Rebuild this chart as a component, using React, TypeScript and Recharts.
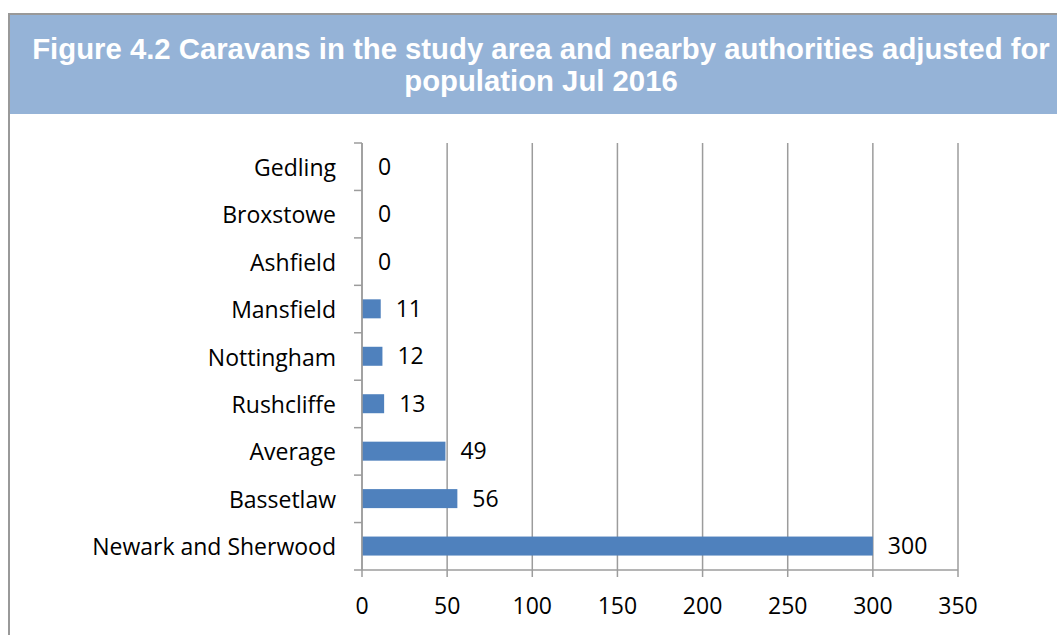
import React from "react";
import {
  BarChart,
  Bar,
  XAxis,
  YAxis,
  CartesianGrid,
  LabelList,
} from "recharts";

const areas = [
  "Gedling",
  "Broxstowe",
  "Ashfield",
  "Mansfield",
  "Nottingham",
  "Rushcliffe",
  "Average",
  "Bassetlaw",
  "Newark and Sherwood",
];
const caravans = [0, 0, 0, 11, 12, 13, 49, 56, 300];
const xTicks = [0, 50, 100, 150, 200, 250, 300, 350];

const titleLines = [
  "Figure 4.2 Caravans in the study area and nearby authorities adjusted for",
  "population Jul 2016",
];

const data = areas.map((name, i) => ({ name, value: caravans[i] }));

const FONT = "'Open Sans', sans-serif";
const FONT_SIZE = 23;
const GRID = "#9c9c9c";
const BAR = "#4f81bd";

const CHART_W = 1057;
const CHART_H = 635;
const PLOT_TOP = 143;
const PLOT_BOTTOM = 570;
const BAND = (PLOT_BOTTOM - PLOT_TOP) / areas.length;

// excel style: category tick marks sit between the bands, not at their centres
function CategoryTick(props: any) {
  const { x, y, payload, index } = props;
  const axisX = x + 26;
  return (
    <g>
      <text
        x={x}
        y={y}
        textAnchor="end"
        dominantBaseline="central"
        fontFamily={FONT}
        fontSize={FONT_SIZE}
        fill="#000"
      >
        {payload.value}
      </text>
      <line x1={axisX - 8} x2={axisX} y1={y - BAND / 2} y2={y - BAND / 2} stroke={GRID} strokeWidth={1.5} />
      {index === areas.length - 1 && (
        <line x1={axisX - 8} x2={axisX} y1={y + BAND / 2} y2={y + BAND / 2} stroke={GRID} strokeWidth={1.5} />
      )}
    </g>
  );
}

// zero bars get a min size so their label still shows, but nothing is drawn
function BarShape(props: any) {
  const { x, y, width, height, payload } = props;
  if (!payload || payload.value <= 0) return <g />;
  return <rect x={x} y={y} width={width} height={height} fill={BAR} />;
}

export default function App() {
  return (
    <div
      style={{
        position: "absolute",
        left: 0,
        top: 0,
        width: CHART_W,
        height: CHART_H,
        background: "#fff",
        overflow: "hidden",
      }}
    >
      {/* frame + title banner */}
      <div
        style={{
          position: "absolute",
          left: 8,
          top: 13,
          width: CHART_W,
          height: CHART_H,
          borderLeft: "2px solid #999",
          borderTop: "2px solid #999",
        }}
      />
      <div
        style={{
          position: "absolute",
          left: 10,
          top: 15,
          width: CHART_W - 10,
          height: 99,
          background: "#95b3d7",
          overflow: "hidden",
        }}
      >
        <div
          style={{
            position: "absolute",
            left: 0,
            top: 18,
            width: 1062,
            textAlign: "center",
            color: "#fff",
            fontFamily: "'Liberation Sans', Arial, sans-serif",
            fontWeight: "bold",
            fontSize: 29.3,
            lineHeight: "32px",
            whiteSpace: "nowrap",
          }}
        >
          {titleLines[0]}
          <br />
          {titleLines[1]}
        </div>
      </div>

      <div style={{ position: "absolute", left: 0, top: 0 }}>
        <BarChart
          width={CHART_W}
          height={CHART_H}
          data={data}
          layout="vertical"
          margin={{ top: PLOT_TOP, right: 99, bottom: CHART_H - PLOT_BOTTOM - 50, left: 0 }}
          barSize={19}
        >
          <CartesianGrid vertical horizontal={false} stroke={GRID} strokeWidth={1.5} />
          <XAxis
            type="number"
            domain={[0, 350]}
            ticks={xTicks}
            height={50}
            stroke={GRID}
            strokeWidth={1.5}
            tickSize={7}
            tickMargin={21}
            tick={{ fontFamily: FONT, fontSize: FONT_SIZE, fill: "#000" }}
          />
          <YAxis
            type="category"
            dataKey="name"
            width={362}
            stroke={GRID}
            strokeWidth={1.5}
            tickLine={false}
            tickMargin={20}
            tick={<CategoryTick />}
          />
          <Bar
            dataKey="value"
            fill={BAR}
            minPointSize={1}
            shape={<BarShape />}
            isAnimationActive={false}
          >
            <LabelList
              dataKey="value"
              position="right"
              offset={15}
              fontFamily={FONT}
              fontSize={FONT_SIZE}
              fill="#000"
            />
          </Bar>
        </BarChart>
      </div>
    </div>
  );
}
